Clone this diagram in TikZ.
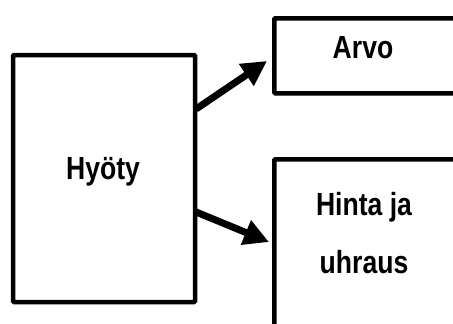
\documentclass[tikz,border=0pt]{standalone}
\usepackage{fontspec}
\setmainfont{Liberation Sans}[FakeStretch=0.83]
\usetikzlibrary{arrows.meta}
\begin{document}
\begin{tikzpicture}[x=1pt,y=-1pt,
  box/.style={draw=black,line width=4.5pt,rounded corners=1pt,inner sep=0pt},
  lbl/.style={font=\fontsize{32}{32}\selectfont\bfseries,inner sep=0pt},
  arr/.style={line width=7pt,-{Triangle[length=25pt,width=25pt]}}]
\useasboundingbox (0,0) rectangle (453,324);
\clip (0,0) rectangle (453,324);
% boxes (stroke centre lines)
\node[box,minimum width=182pt,minimum height=247pt] (hyoty) at (104,178.5) {};
\node[box,minimum width=220pt,minimum height=75pt,anchor=north west] (arvo) at (272,16) {};
\node[box,minimum width=220pt,minimum height=200pt,anchor=north west] (hinta) at (272,157) {};
% texts
\node[lbl] (thyoty) at (103,172) {Hyöty};
\node[lbl] (tarvo) at (363,48) {Arvo};
\node[lbl] (thinta1) at (364,207) {Hinta ja};
\node[lbl] (thinta2) at (364,262) {uhraus};
% connectors
\coordinate (s1) at (196,109);
\coordinate (e1) at (267,61);
\coordinate (s2) at (196,212);
\coordinate (e2) at (269,242);
\draw[arr] (s1) -- (e1);
\draw[arr] (s2) -- (e2);
\end{tikzpicture}
\end{document}
